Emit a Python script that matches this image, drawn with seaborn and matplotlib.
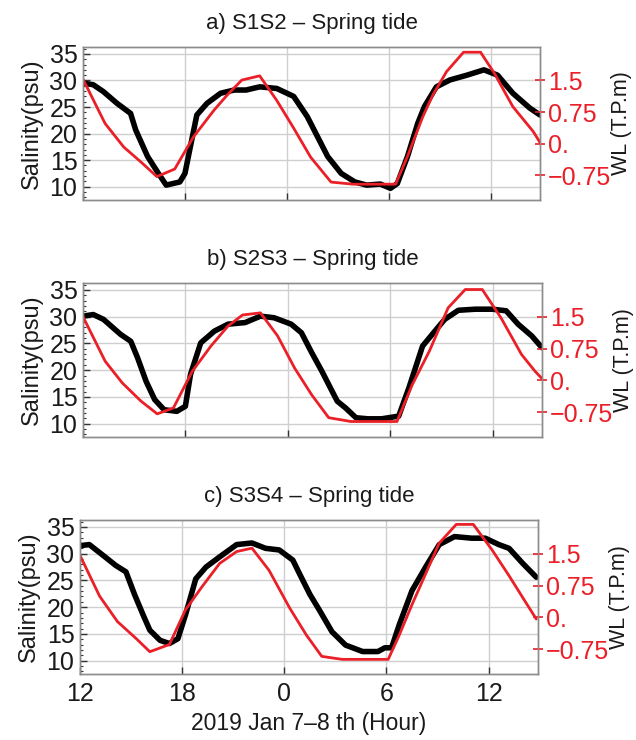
import numpy as np
import pandas as pd
import matplotlib
matplotlib.use("Agg")
import matplotlib.pyplot as plt
import seaborn as sns
from matplotlib.ticker import FixedLocator, MultipleLocator

# Hours since 12:00 on Jan 7, 2019
# ---- a) S1S2 ----
sal_hours_a = [0.0, 0.6, 1.2, 2.0, 2.8, 3.1, 3.8, 4.5, 4.9, 5.7, 6.0, 6.4, 6.7, 7.3, 8.1, 8.9,
               9.6, 10.4, 11.4, 12.4, 12.8, 13.2, 13.6, 14.0, 14.4, 15.2, 16.0, 16.7, 17.5, 18.1,
               18.5, 19.1, 19.7, 20.1, 20.8, 21.6, 22.6, 23.6, 24.4, 25.3, 26.3, 26.9]
sal_a = [29.5, 29.2, 27.9, 25.7, 23.8, 20.7, 15.7, 12.2, 10.3, 10.9, 12.5, 18.8, 23.5, 25.7, 27.6, 28.2,
         28.2, 28.8, 28.5, 27.0, 25.1, 23.2, 20.7, 18.2, 15.7, 12.5, 10.9, 10.3, 10.5, 9.7,
         10.6, 15.7, 21.9, 25.1, 28.8, 30.1, 31.0, 32.0, 31.0, 27.6, 24.8, 23.5]
wl_hours_a = [0.0, 1.3, 2.4, 3.4, 4.35, 5.4, 6.5, 7.7, 8.5, 9.35, 10.4, 11.4, 12.4, 13.4, 14.6,
              15.9, 18.4, 19.1, 20.0, 20.6, 21.4, 22.4, 23.4, 24.2, 25.3, 26.5, 26.9]
wl_a = [1.53, 0.48, -0.08, -0.43, -0.78, -0.60, 0.16, 0.79, 1.16, 1.51, 1.61, 1.03, 0.37, -0.32, -0.91,
        -0.96, -0.96, -0.30, 0.64, 1.16, 1.71, 2.17, 2.17, 1.68, 0.88, 0.29, 0.03]

# ---- b) S2S3 ----
sal_hours_b = [0.0, 0.6, 1.2, 2.2, 2.8, 3.2, 3.7, 4.2, 4.75, 5.5, 6.0, 6.3, 6.9, 7.7, 8.5, 9.5,
               10.4, 11.2, 12.2, 12.8, 13.4, 14.0, 14.4, 14.9, 15.4, 16.0, 16.7, 17.5, 18.5, 19.1,
               19.9, 20.7, 21.2, 22.0, 23.0, 24.0, 24.8, 25.5, 26.3, 26.9]
sal_b = [30.1, 30.4, 29.5, 26.7, 25.4, 22.3, 17.9, 14.5, 12.6, 12.3, 13.25, 19.2, 25.1, 27.3, 28.6, 28.9,
         30.1, 29.8, 28.6, 27.0, 23.3, 19.8, 17.3, 14.2, 12.9, 11.1, 10.9, 10.9, 11.4, 16.7,
         24.5, 27.6, 29.5, 31.2, 31.4, 31.4, 31.1, 28.6, 26.4, 24.2]
wl_hours_b = [0.0, 1.3, 2.3, 3.4, 4.35, 5.3, 6.4, 7.5, 8.5, 9.35, 10.4, 11.4, 12.4, 13.4, 14.4,
              15.7, 18.4, 19.3, 20.3, 21.4, 22.4, 23.4, 24.5, 25.7, 26.5, 27.0]
wl_b = [1.50, 0.45, -0.06, -0.49, -0.79, -0.65, 0.21, 0.81, 1.28, 1.54, 1.59, 1.05, 0.29, -0.34, -0.88,
        -0.97, -0.97, -0.10, 0.69, 1.71, 2.14, 2.14, 1.47, 0.61, 0.21, 0.00]

# ---- c) S3S4 ----
sal_hours_c = [0.0, 0.55, 1.35, 2.1, 2.7, 3.2, 3.7, 4.1, 4.7, 5.25, 5.75, 6.2, 6.8, 7.4, 8.2, 9.2,
               10.1, 10.9, 11.7, 12.5, 12.9, 13.5, 14.05, 14.8, 15.6, 16.6, 17.5, 17.9, 18.3, 18.75,
               19.5, 20.3, 21.1, 22.0, 23.0, 23.8, 24.6, 25.2, 26.0, 26.8]
sal_c = [31.5, 31.7, 29.7, 27.8, 26.6, 22.4, 18.6, 15.7, 13.8, 13.2, 14.1, 18.6, 25.3, 27.5, 29.4, 31.7,
         32.0, 31.0, 30.7, 28.8, 26.2, 22.4, 19.5, 15.4, 12.9, 11.7, 11.7, 12.4, 12.4, 16.7,
         23.1, 27.5, 31.7, 33.2, 32.9, 32.9, 31.7, 31.0, 28.2, 25.6]
wl_hours_c = [0.0, 1.15, 2.2, 3.3, 4.1, 5.25, 6.2, 7.2, 8.2, 9.2, 10.1, 11.1, 12.3, 13.3, 14.2,
              15.4, 18.1, 18.75, 19.5, 21.1, 22.1, 23.1, 24.2, 25.2, 26.2, 26.8]
wl_c = [1.46, 0.50, -0.10, -0.50, -0.81, -0.64, 0.18, 0.74, 1.27, 1.55, 1.63, 1.11, 0.23, -0.42, -0.92,
        -0.99, -0.99, -0.42, 0.30, 1.75, 2.19, 2.19, 1.59, 0.98, 0.34, -0.04]

titles = ["a) S1S2 \u2013 Spring tide", "b) S2S3 \u2013 Spring tide", "c) S3S4 \u2013 Spring tide"]
hour_ticks = [0, 6, 12, 18, 24]
hour_labels = ["12", "18", "0", "6", "12"]
sal_ticks = [10, 15, 20, 25, 30, 35]
wl_ticks = [-0.75, 0.0, 0.75, 1.5]
wl_labels = ["\u22120.75", "0.", "0.75", "1.5"]

panels = [
    (sal_hours_a, sal_a, wl_hours_a, wl_a),
    (sal_hours_b, sal_b, wl_hours_b, wl_b),
    (sal_hours_c, sal_c, wl_hours_c, wl_c),
]

sns.set_style("white")
plt.rcParams["font.family"] = ["Liberation Sans", "DejaVu Sans"]

RED = "#ea1f27"
FRAME = "#8c8c8c"
GRID = "#cfcfcf"
TXT = "#1a1a1a"

W, H = 636, 740
boxes = [(83, 47, 540, 200), (83, 283, 542, 437), (80, 520, 538, 674)]

# salinity and water-level axes share the same vertical mapping: 30 psu <-> 1.5 m
sal_lim = (7.5, 36.3)
scale = 0.126
wl_lim = (1.5 + (sal_lim[0] - 30) * scale, 1.5 + (sal_lim[1] - 30) * scale)

fig = plt.figure(figsize=(W / 100, H / 100), dpi=100)

for i, ((sh, sv, wh, wv), (l, t, r, b)) in enumerate(zip(panels, boxes)):
    ax = fig.add_axes([l / W, 1 - b / H, (r - l) / W, (b - t) / H])
    ax2 = ax.twinx()

    sal_df = pd.DataFrame({"hour": sh, "salinity": sv})
    wl_df = pd.DataFrame({"hour": wh, "wl": wv})

    sns.lineplot(data=sal_df, x="hour", y="salinity", ax=ax, color="black",
                 linewidth=4.0, estimator=None, sort=False)
    sns.lineplot(data=wl_df, x="hour", y="wl", ax=ax2, color=RED,
                 linewidth=2.0, estimator=None, sort=False)

    ax.set_xlim(0, 26.9)
    ax.set_ylim(*sal_lim)
    ax2.set_ylim(*wl_lim)

    ax.xaxis.set_major_locator(FixedLocator(hour_ticks))
    ax.yaxis.set_major_locator(FixedLocator(sal_ticks))
    ax.yaxis.set_minor_locator(MultipleLocator(1))
    ax2.yaxis.set_major_locator(FixedLocator(wl_ticks))
    ax2.set_yticklabels(wl_labels)

    ax.grid(True, which="major", color=GRID, linewidth=1.0)
    ax2.grid(False)
    ax.set_axisbelow(True)

    for a in (ax, ax2):
        for s in a.spines.values():
            s.set_color(FRAME)
            s.set_linewidth(1.0)

    ax.tick_params(axis="y", which="major", direction="in", length=5, width=1,
                   color="#333333", labelsize=18, labelcolor=TXT, pad=4, left=True)
    ax.tick_params(axis="y", which="minor", direction="in", length=2.5, width=0.8,
                   color="#333333", left=True)
    ax.tick_params(axis="x", direction="in", length=5, width=1, color="#333333",
                   labelsize=18, labelcolor=TXT, pad=6, bottom=True)
    ax2.tick_params(axis="y", direction="inout", length=7, width=1.2, color=RED,
                    labelsize=18, labelcolor=RED, pad=2, right=True)

    if i < 2:
        ax.set_xticklabels([])
        ax.set_xlabel("")
    else:
        ax.set_xticklabels(hour_labels)
        ax.set_xlabel("2019 Jan 7\u20138 th (Hour)", fontsize=16.5, color=TXT, labelpad=4)

    ax.set_ylabel("Salinity(psu)", fontsize=17, color=TXT, labelpad=5)
    ax2.set_ylabel("WL (T.P.m)", fontsize=15.5, color=TXT, labelpad=0, rotation=90)
    ax.set_title(titles[i], fontsize=16, color=TXT, pad=13)

fig.savefig("out.png", dpi=100, facecolor="white")
